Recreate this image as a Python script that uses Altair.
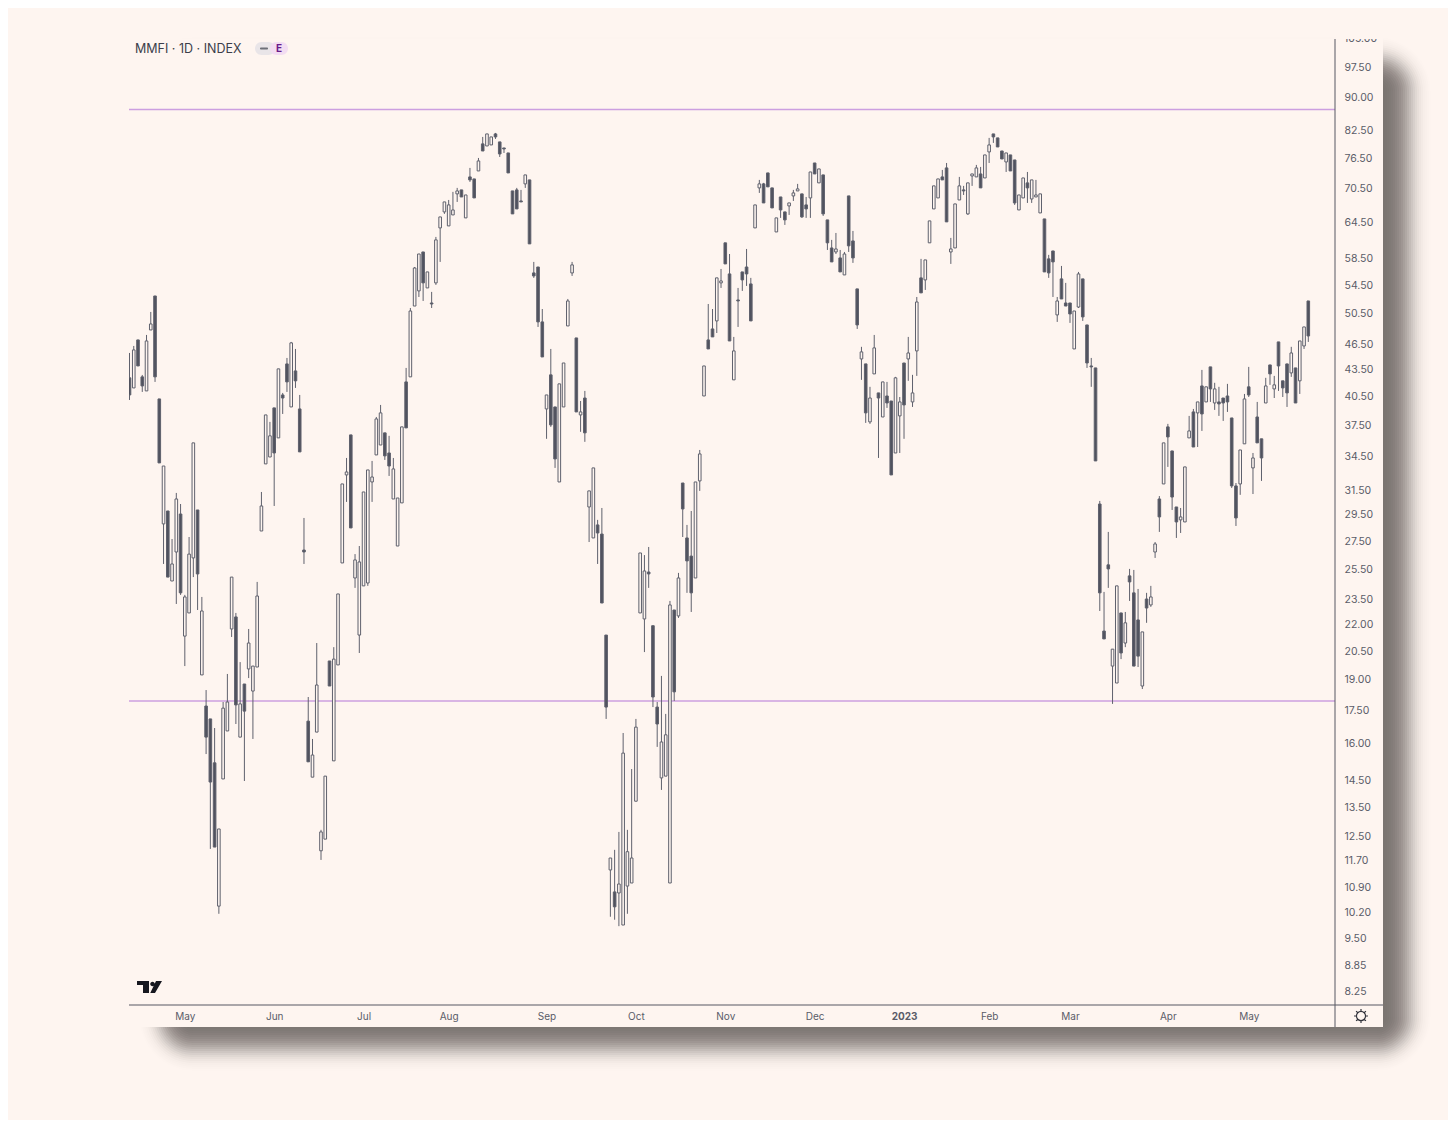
import math
import altair as alt
import pandas as pd

directions = (
    "DUDDUUDDUD" "UUDUUUDUDD" "DUUUUDUDUU" "UUUUDUDDUD" "DDDUUUUDUU"
    "UUDUUUUUUU" "DDUUUDUUUD" "UDUUUUUUDU" "DDUDUUDDDD" "DDDUDDDDUD"
    "DUUUUDUDUU" "DDDUDUUUUU" "UUDDDUUUDU" "DDDUUUDDUU" "DDUDDDDUUD"
    "DDUDDUUUDD" "UDUDDDUDUD" "DDUDUUDUDD" "UUDUUUDUUU" "UDDUUUDUUU"
    "DUUDDDUDDU" "UDUUUDDDUD" "DDUUDDDDDD" "DUUDUDDDUD" "UUDUDDDUUU"
    "DUDUDUDDDD" "DUUDUDDUDU" "DDDUDUUD"
)

body_top = [
    42.48,45.77,47.01,42.59,46.88,49.06,52.87,40.15,33.56,29.76,
    25.83,30.73,29.52,23.65,26.52,35.70,29.84,22.78,17.67,17.07,
    15.18,12.72,17.57,17.86,24.94,22.42,17.77,18.74,20.91,19.66,
    23.71,30.16,38.47,36.38,39.20,43.51,40.58,44.09,46.64,43.27,
    39.09,26.81,16.97,15.50,18.69,12.62,14.65,19.93,20.03,23.84,
    31.99,33.03,36.47,26.11,25.97,31.31,33.21,32.59,38.06,38.68,
    36.67,34.75,33.30,30.81,37.26,42.02,50.79,56.98,59.15,59.47,
    56.38,51.89,61.42,65.31,67.98,67.44,66.54,70.01,70.20,69.26,
    72.68,72.29,75.85,79.39,81.53,80.88,81.53,79.81,78.53,77.49,
    70.01,70.20,68.16,73.07,72.10,56.23,57.13,49.33,40.58,42.82,
    39.30,41.80,44.20,52.17,57.45,47.26,38.78,40.25,31.40,33.39,
    28.67,27.98,21.36,11.77,10.75,10.98,15.58,11.97,11.77,16.70,
    26.60,25.35,25.28,21.90,17.62,16.05,16.36,23.15,22.84,24.88,
    32.07,27.69,26.38,32.16,34.66,43.85,47.01,48.41,55.49,55.04,
    60.94,56.08,45.65,52.31,56.38,57.13,54.60,67.44,71.34,71.34,
    73.46,70.58,65.14,68.89,66.19,67.80,69.64,70.39,69.46,67.44,
    73.65,75.44,74.25,73.07,64.79,60.11,59.95,58.53,59.15,69.08,
    61.25,53.88,45.53,44.09,40.25,46.02,40.80,42.02,40.47,39.93,
    42.48,39.83,44.20,45.40,40.80,52.03,55.49,58.22,64.62,70.96,
    72.29,72.68,74.45,59.95,67.62,70.96,70.20,71.53,73.26,74.45,
    73.26,77.08,79.17,81.53,80.67,77.90,77.49,77.08,76.05,69.26,
    72.48,71.53,72.10,69.26,69.46,64.96,58.38,59.63,52.17,55.34,
    51.89,51.89,50.79,56.08,55.34,48.93,43.85,43.62,30.32,21.59,
    25.77,20.57,24.36,22.66,22.07,25.02,23.91,22.24,21.54,23.52,
    23.65,27.25,30.73,35.70,37.26,34.94,30.08,29.29,33.48,36.86,
    38.78,39.83,41.57,41.47,43.74,41.24,39.83,40.25,40.47,38.16,
    31.82,35.03,40.15,41.47,34.29,38.26,36.09,41.57,43.97,41.69,
    46.76,42.14,44.09,45.40,43.62,46.88,48.67,52.17,
]

body_bottom = [
    40.58,41.35,43.85,41.57,41.02,48.28,42.59,33.84,28.75,24.94,
    24.68,26.67,23.91,21.30,22.66,26.25,25.15,19.20,16.26,14.42,
    12.12,10.35,14.54,16.53,21.71,17.72,16.26,17.43,19.51,18.39,
    19.61,28.21,33.75,34.38,34.75,36.18,40.25,42.02,39.30,42.14,
    34.85,26.67,15.22,14.61,16.48,12.00,12.38,18.64,15.26,19.72,
    25.90,32.77,28.44,24.88,21.36,24.36,24.55,32.16,34.57,35.50,
    34.48,33.56,30.73,27.10,30.41,37.16,42.59,51.47,53.59,54.75,
    54.02,51.75,54.75,63.42,66.19,63.76,65.66,69.46,68.89,65.14,
    72.10,68.71,73.85,77.90,78.95,79.17,80.88,77.28,78.32,73.46,
    65.84,66.72,67.98,71.34,60.77,55.78,49.33,44.92,39.09,37.46,
    34.20,32.16,39.30,48.80,56.23,38.78,38.47,36.67,30.08,27.69,
    28.06,23.27,17.62,11.40,10.33,10.72,9.84,10.92,11.01,13.70,
    22.66,22.30,25.15,18.10,16.84,14.58,14.65,11.01,18.35,22.48,
    29.92,26.04,23.91,24.88,32.25,40.47,45.89,47.39,49.46,54.75,
    57.60,46.88,42.25,52.17,55.19,56.08,49.46,63.42,70.58,67.80,
    70.77,66.90,62.74,66.54,64.79,67.26,69.08,70.01,65.31,66.72,
    68.71,73.26,71.53,65.84,60.94,57.91,59.47,56.38,55.93,60.45,
    58.53,48.93,44.68,38.68,37.76,42.93,40.25,38.26,39.72,32.77,
    34.75,38.37,39.51,44.68,39.83,45.65,53.31,55.19,60.94,66.72,
    68.71,72.10,64.45,59.47,60.11,68.34,70.01,65.84,72.87,72.68,
    70.58,72.48,77.70,80.88,78.74,76.25,75.65,73.85,67.80,66.54,
    68.71,70.58,68.52,68.89,66.01,56.38,56.23,57.91,50.26,52.45,
    51.47,50.39,45.89,51.33,49.99,44.20,43.74,34.02,23.91,21.14,
    25.49,19.66,18.79,20.36,20.91,24.62,19.66,20.19,18.64,22.96,
    23.15,26.67,29.29,31.99,36.27,30.89,28.90,29.06,28.90,36.18,
    35.31,38.68,38.57,39.83,41.24,39.72,39.62,39.72,39.83,31.82,
    29.21,31.99,35.61,40.58,33.39,35.70,34.29,39.72,42.93,41.24,
    43.85,41.35,40.80,43.04,39.72,42.14,46.26,47.51,
]

highs = [
    45.40,46.26,47.01,42.81,47.64,50.66,52.87,40.15,33.56,29.76,
    27.61,31.23,30.32,23.78,27.76,35.70,29.84,23.65,18.44,17.07,
    16.66,12.72,17.86,19.25,24.94,22.66,19.87,18.74,21.71,19.66,
    24.62,31.31,38.47,37.76,39.20,43.51,40.80,44.80,46.76,45.89,
    40.58,29.21,18.10,16.18,20.91,12.69,14.65,19.93,20.68,23.84,
    31.99,34.29,36.47,26.52,27.10,31.31,33.21,34.02,38.26,39.51,
    36.67,36.38,34.29,30.81,37.26,43.62,51.20,57.13,59.15,59.47,
    56.38,53.45,61.91,65.31,67.98,68.34,69.83,70.58,70.20,69.26,
    74.45,72.29,76.46,80.88,81.53,80.88,81.75,79.81,78.53,77.49,
    70.01,70.58,70.20,73.07,72.10,57.91,57.13,51.06,40.58,45.89,
    39.30,41.80,44.20,52.45,57.91,47.26,39.93,41.02,31.40,33.39,
    29.06,30.00,21.36,11.77,12.03,12.62,16.44,12.69,14.93,17.07,
    26.60,26.45,27.03,21.90,17.86,19.15,17.30,23.40,22.84,25.22,
    32.07,28.67,29.76,32.16,35.03,43.85,51.75,51.06,55.49,56.83,
    60.94,59.15,47.39,54.02,56.38,59.95,55.49,67.44,72.10,71.53,
    73.46,70.58,65.14,68.89,66.19,67.80,70.20,71.34,69.46,68.89,
    73.65,75.44,74.25,73.07,64.79,61.42,62.57,59.79,59.47,69.08,
    62.91,53.88,46.15,44.09,41.47,47.64,40.80,42.02,42.02,39.93,
    42.59,40.36,44.20,47.39,42.82,52.73,58.38,58.22,64.62,70.96,
    72.29,74.05,75.44,61.75,67.62,72.68,70.96,71.53,73.26,75.05,
    74.65,77.08,80.67,81.53,80.67,77.90,77.49,77.08,76.05,69.26,
    72.48,73.65,72.10,72.10,69.46,64.96,59.01,59.63,52.73,57.29,
    54.75,51.89,50.79,56.38,55.34,48.93,44.80,43.62,30.57,23.97,
    28.14,20.57,24.36,22.66,22.72,25.49,25.42,24.16,21.54,23.91,
    24.36,27.39,30.97,35.70,37.56,34.94,30.08,30.00,33.48,38.37,
    39.09,39.83,43.39,41.47,43.74,41.92,41.47,40.25,41.80,38.16,
    32.07,35.03,40.69,43.74,34.75,39.83,36.09,42.48,43.97,42.70,
    46.76,42.14,44.09,46.15,43.62,46.88,48.67,52.17,
]

lows = [
    40.04,41.35,43.85,40.91,41.02,48.28,42.02,33.84,25.83,24.94,
    24.68,23.21,23.78,19.66,22.66,24.94,22.84,19.20,15.54,12.06,
    12.12,10.14,14.54,16.53,21.25,16.84,16.26,14.46,19.04,16.18,
    19.61,28.21,33.75,34.38,30.16,36.18,38.57,40.91,39.30,41.35,
    34.85,25.83,15.22,14.61,16.48,11.71,12.38,18.64,15.26,19.72,
    25.90,30.49,28.44,24.23,20.36,24.36,24.36,30.49,34.57,35.50,
    34.11,32.68,30.73,27.10,30.41,37.16,42.59,51.47,52.73,52.17,
    54.02,51.20,54.46,57.91,65.84,63.76,65.66,67.98,68.89,65.14,
    71.72,68.71,73.85,77.90,78.95,79.17,80.45,76.66,77.49,73.46,
    65.84,66.72,67.98,70.58,60.77,55.49,48.67,44.92,36.09,37.26,
    33.39,32.16,39.30,48.80,55.78,38.78,36.77,35.80,27.39,27.69,
    25.83,23.27,17.07,10.06,9.98,9.81,9.84,10.14,11.01,13.70,
    22.66,20.41,24.23,17.62,15.84,14.12,14.65,11.01,17.91,22.36,
    27.76,23.91,22.72,24.88,31.40,40.47,45.89,47.39,47.89,54.02,
    57.60,46.88,42.25,48.67,53.59,54.31,49.46,63.42,69.64,67.80,
    70.77,66.90,62.74,65.14,63.93,65.66,68.16,70.01,65.14,65.14,
    65.14,73.26,71.53,65.48,59.79,57.91,59.15,56.38,55.93,59.47,
    57.76,48.41,42.25,37.66,37.56,42.93,34.29,38.26,39.20,32.77,
    34.75,34.75,36.09,42.14,39.30,42.70,53.31,53.73,60.94,66.72,
    68.71,72.10,64.45,57.60,60.11,68.34,69.26,65.66,70.96,72.68,
    70.58,72.48,75.44,79.60,78.74,76.25,73.65,73.85,67.44,66.54,
    68.71,67.80,67.80,68.89,66.01,56.38,55.49,52.73,49.33,52.45,
    51.47,49.20,45.89,51.20,49.46,43.62,41.47,34.02,22.78,21.14,
    24.23,17.77,18.79,20.03,20.68,23.40,19.66,19.61,18.49,22.07,
    23.03,26.25,28.14,31.99,33.48,29.84,27.69,28.06,28.90,36.18,
    35.31,35.31,36.86,39.83,39.83,38.99,38.37,37.86,38.78,31.65,
    28.59,31.07,35.61,40.36,31.14,35.70,32.25,39.72,41.69,40.25,
    41.02,40.36,39.30,42.59,39.72,40.69,45.89,46.76,
]

month_bars = [13, 34, 55, 75, 98, 119, 140, 161, 182, 202, 221, 244, 263]
month_names = ["May", "Jun", "Jul", "Aug", "Sep", "Oct", "Nov", "Dec", "2023", "Feb", "Mar", "Apr", "May"]
price_ticks = [97.5, 90, 82.5, 76.5, 70.5, 64.5, 58.5, 54.5, 50.5, 46.5, 43.5, 40.5, 37.5,
               34.5, 31.5, 29.5, 27.5, 25.5, 23.5, 22, 20.5, 19, 17.5, 16, 14.5, 13.5,
               12.5, 11.7, 10.9, 10.2, 9.5, 8.85, 8.25]
levels = [87.04, 17.91]

PAGE = "#FEF5F0"
DARK = "#50525E"
EDGE = "#5F616D"
AXIS = "#565862"
TEXT = "#5A5C68"
FONT = "Inter"

n = len(directions)
step = 1178.8 / (n - 1)
x_scale = alt.Scale(domain=[-0.5 / step, 1205.5 / step], nice=False, zero=False, padding=0)
y_scale = alt.Scale(type="log", domain=[7.946, 105.08], nice=False)

df = pd.DataFrame({
    "bar": list(range(n)),
    "dir": list(directions),
    "top": body_top,
    "bottom": body_bottom,
    "high": highs,
    "low": lows,
})

one = alt.Data(values=[{}])

label_expr = "".join(f"datum.value=={b}?'{m}':" for b, m in zip(month_bars, month_names)) + "''"
x_axis = alt.Axis(values=month_bars, labelExpr=label_expr, labelFont=FONT, labelFontSize=10,
                  labelColor=TEXT, labelPadding=6, domain=False, ticks=False, grid=False,
                  title=None, labelOverlap=False, labelFlush=False, zindex=1,
                  labelFontWeight={"condition": {"test": "datum.value==182", "value": "bold"}, "value": "normal"})
y_axis = alt.Axis(orient="right", values=price_ticks, format=".2f", labelFont=FONT, labelFontSize=10.5,
                  labelColor=TEXT, labelPadding=9, labelAlign="left", labelOffset=0.6, domain=False, ticks=False,
                  grid=False, title=None, labelOverlap=False, labelFlush=False, labelBound=False, zindex=1)


def box(x, x2, y, y2, **kw):
    return alt.Chart(one).mark_rect(**kw).encode(
        x=alt.value(x), x2=alt.value(x2), y=alt.value(y), y2=alt.value(y2))


layers = []

# drop shadow: nested translucent rectangles with bell-shaped weights
insets = list(range(-26, 27, 2))
weights = [math.exp(-(i / 11) ** 2 / 2) for i in insets]
total = sum(weights)
for inset, w in zip(insets, weights):
    layers.append(box(36 + inset, 1276 - inset, 24 + inset, 1006 - inset,
                      fill="#35302E", opacity=0.97 * w / total, cornerRadius=max(2, 28 - inset)))
# panel
layers.append(box(0, 1254, 0, 988, fill=PAGE))

layers.append(alt.Chart(pd.DataFrame({"p": levels})).mark_rule(color="#CC9FE0", strokeWidth=1.5).encode(
    x=alt.value(0), x2=alt.value(1206), y=alt.Y("p:Q", scale=y_scale, axis=y_axis)))

layers.append(alt.Chart(df).mark_rule(color=EDGE, strokeWidth=1, clip=True).encode(
    x=alt.X("bar:Q", scale=x_scale, axis=x_axis),
    y=alt.Y("low:Q", scale=y_scale, axis=y_axis),
    y2="high:Q"))

layers.append(alt.Chart(df).mark_bar(size=2.6, stroke=EDGE, strokeWidth=1, clip=True).encode(
    x=alt.X("bar:Q", scale=x_scale, axis=x_axis),
    y=alt.Y("bottom:Q", scale=y_scale, axis=y_axis),
    y2="top:Q",
    fill=alt.Fill("dir:N", scale=alt.Scale(domain=["U", "D"], range=[PAGE, DARK]), legend=None)))

# clipped top price label
layers.append(alt.Chart(pd.DataFrame({"p": [105], "t": ["105.00"]})).mark_text(
    align="left", baseline="middle", font=FONT, fontSize=10.5, color=TEXT).encode(
    x=alt.value(1215), y=alt.Y("p:Q", scale=y_scale, axis=y_axis), text="t:N"))
layers.append(box(1207, 1254, -12, 0, fill=PAGE))

# panel frame
layers.append(box(1205.5, 1206.5, 0, 988, fill=AXIS))
layers.append(box(0, 1254, 965.5, 966.5, fill=AXIS))

# header
layers.append(alt.Chart(pd.DataFrame({"t": ["MMFI · 1D · INDEX"]})).mark_text(
    align="left", baseline="middle", font=FONT, fontSize=12.5, color="#3C3E4A").encode(
    x=alt.value(6), y=alt.value(10), text="t:N"))
layers.append(box(126, 146, 3, 16, fill="#E9E5E8", cornerRadius=6.5))
layers.append(box(141, 159, 3, 16, fill="#F3DDF2", cornerRadius=6.5))
layers.append(box(131, 139, 8.5, 10.5, fill="#6E7078", cornerRadius=1))
layers.append(alt.Chart(pd.DataFrame({"t": ["E"]})).mark_text(
    align="center", baseline="middle", font=FONT, fontSize=10, fontWeight="bold", color="#6A1B8A").encode(
    x=alt.value(150), y=alt.value(10), text="t:N"))

# TradingView logo
logo = ("M -1 -0.48 L -0.04 -0.48 L -0.04 0.48 L -0.52 0.48 L -0.52 -0.16 L -1 -0.16 Z "
        "M 0.52 -0.48 L 1 -0.48 L 0.44 0.48 L 0.06 0.48 Z "
        "M 0.42 -0.24 A 0.18 0.18 0 1 1 0.06 -0.24 A 0.18 0.18 0 1 1 0.42 -0.24 Z")
layers.append(alt.Chart(one).mark_point(shape=logo, filled=True, fill="#16171F", size=625, opacity=1, strokeWidth=0).encode(
    x=alt.value(20.5), y=alt.value(948)))

# settings icon
gear = ("M 0.65 0 A 0.65 0.65 0 1 1 -0.65 0 A 0.65 0.65 0 1 1 0.65 0 Z "
        "M 0 -0.65 L 0 -1 M 0 0.65 L 0 1 M 0.65 0 L 1 0 M -0.65 0 L -1 0 "
        "M 0.46 -0.46 L 0.7 -0.7 M -0.46 -0.46 L -0.7 -0.7 M 0.46 0.46 L 0.7 0.7 M -0.46 0.46 L -0.7 0.7")
layers.append(alt.Chart(one).mark_point(shape=gear, filled=False, stroke="#33343C", size=196, opacity=1, strokeWidth=1.2).encode(
    x=alt.value(1232), y=alt.value(977)))

chart = alt.layer(*layers).resolve_scale(fill="independent").properties(
    width=1206, height=966, background=PAGE,
    padding={"left": 121, "top": 31, "right": 113, "bottom": 115},
    autosize=alt.AutoSizeParams(type="none"),
).configure_view(strokeWidth=0)

chart.save("out.html", embed_options={"renderer": "svg", "actions": False})
